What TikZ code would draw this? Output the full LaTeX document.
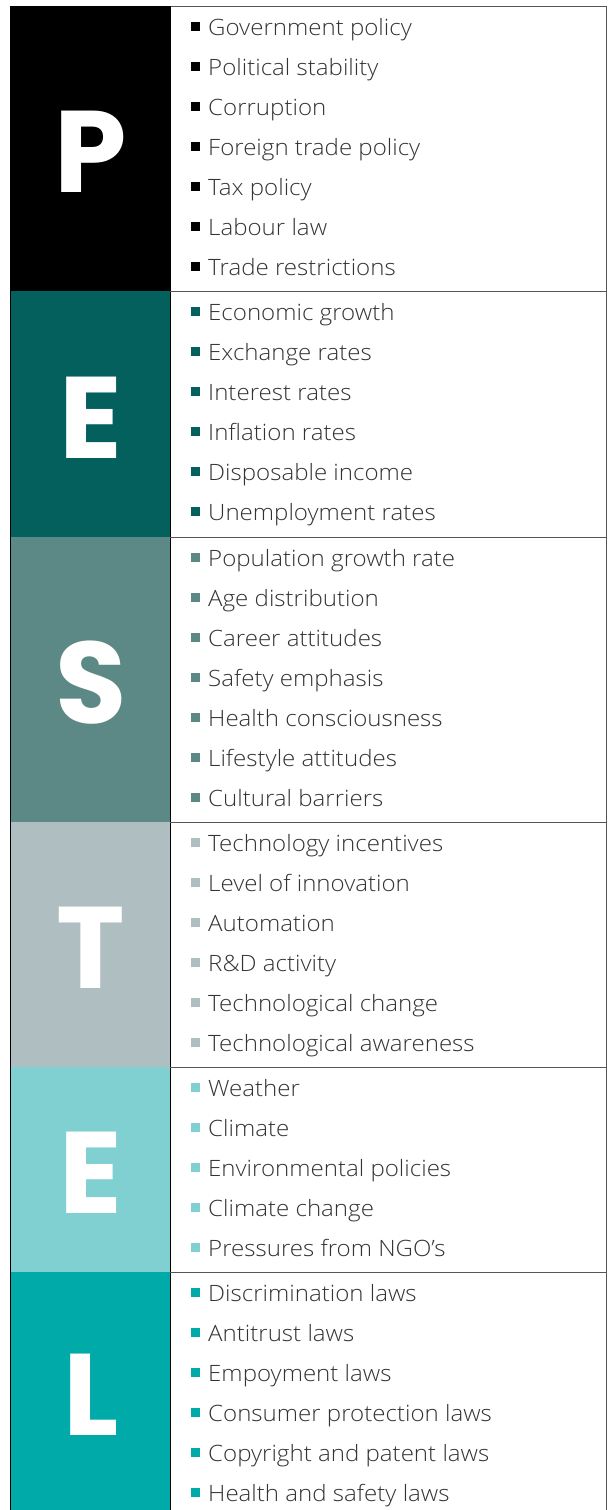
\documentclass[tikz,border=0pt]{standalone}
\usepackage{fontspec}
\setmainfont{Open Sans}[UprightFont=* Light, FakeStretch=1.07]
\newfontfamily\letterfont{Poppins}
\definecolor{cP}{HTML}{000000}
\definecolor{cE}{HTML}{04605D}
\definecolor{cS}{HTML}{5C8985}
\definecolor{cT}{HTML}{AFBFC1}
\definecolor{cEn}{HTML}{80CFD1}
\definecolor{cL}{HTML}{00AAA9}
\definecolor{txt}{HTML}{333333}
\definecolor{rule}{HTML}{555555}
\tikzset{
  itemtext/.style={anchor=base west, inner sep=0pt, text=txt, font=\fontsize{22.5}{26}\selectfont},
  bulletsq/.style={fill=#1, draw=none, minimum size=8.5pt, inner sep=0pt},
  bigletter/.style={anchor=base, inner sep=0pt, text=white, font=\letterfont\bfseries\fontsize{116}{116}\selectfont},
  sep/.style={draw=rule, line width=1pt}
}
\newcommand\pestrow[6]{% prefix, top, bottom, colour, letter, items
  \fill[#4] (10,#2) rectangle (170,#3);
  \node[bigletter] (#1L) at (91,{(#2+#3)/2+44}) {#5};
  \foreach \t [count=\i] in {#6} {
    \node[itemtext] (#1\i) at (208,{#2+29+40*(\i-1)}) {\t};
    \node[bulletsq=#4] (#1b\i) at (195.5,{#2+29+40*(\i-1)-8.5}) {};
  }
}
\begin{document}
\begin{tikzpicture}[x=1pt,y=-1pt]
\useasboundingbox (0,0) rectangle (608,1510);
\pestrow{P}{6}{291}{cP}{P}{Government policy,Political stability,Corruption,Foreign trade policy,Tax policy,Labour law,Trade restrictions}
\pestrow{E}{291}{537}{cE}{E}{Economic growth,Exchange rates,Interest rates,Inflation rates,Disposable income,Unemployment rates}
\pestrow{S}{537}{822}{cS}{S}{Population growth rate,Age distribution,Career attitudes,Safety emphasis,Health consciousness,Lifestyle attitudes,Cultural barriers}
\pestrow{T}{822}{1067}{cT}{T}{Technology incentives,Level of innovation,Automation,R\&D activity,Technological change,Technological awareness}
\pestrow{N}{1067}{1272}{cEn}{E}{Weather,Climate,Environmental policies,Climate change,Pressures from NGO's}
\pestrow{L}{1272}{1510}{cL}{L}{Discrimination laws,Antitrust laws,Empoyment laws,Consumer protection laws,Copyright and patent laws,Health and safety laws}
% frame
\coordinate (tl) at (170,6);
\coordinate (tr) at (606,6);
\coordinate (br) at (606,1510);
\coordinate (bl) at (170,1510);
\draw[sep] (tl) -- (tr) -- (br);
\draw[draw=black, line width=1pt] (tl) -- (bl);
\draw[draw=black, line width=0.8pt] (10,6) -- (10,1510);
\foreach \y in {291,537,822,1067,1272} \draw[sep] (170,\y) -- (606,\y);
\end{tikzpicture}
\end{document}
